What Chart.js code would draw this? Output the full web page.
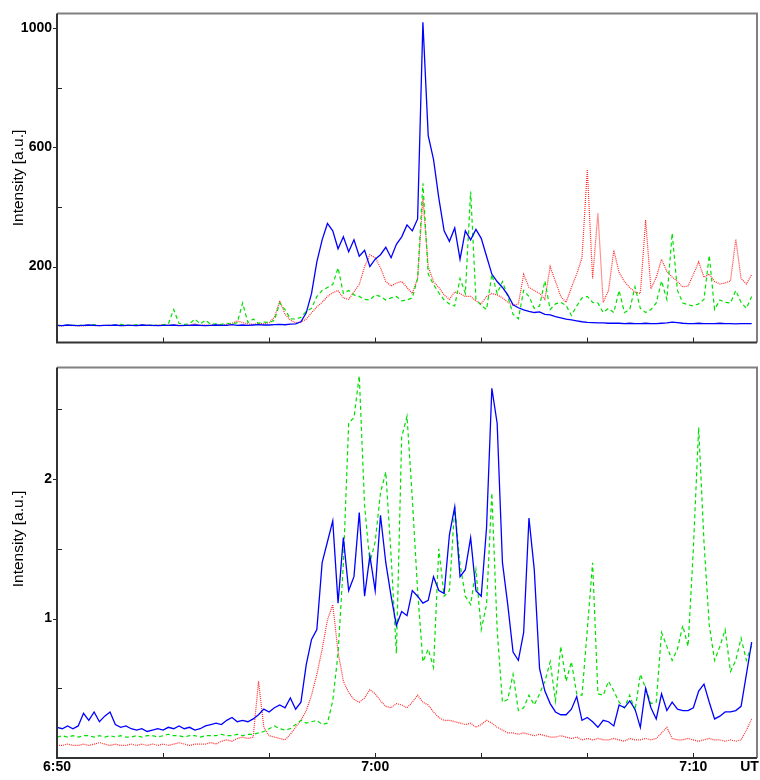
<!DOCTYPE html>
<html>
<head>
<meta charset="utf-8">
<script src="https://cdn.jsdelivr.net/npm/chart.js@4"></script>
<style>
  body { margin: 0; background: #fff; }
  #wrap { position: relative; width: 760px; height: 780px; }
  #wrap canvas { position: absolute; left: 0; }
  #top { top: 0; width: 760px; height: 356px; }
  #bottom { top: 354px; width: 760px; height: 426px; }
</style>
</head>
<body>
<div id="wrap">
  <canvas id="top" width="760" height="356"></canvas>
  <canvas id="bottom" width="760" height="426"></canvas>
</div>
<script>
// seconds after 6:50 UT, one sample every 10 s
const times = [
  0,10,20,30,40,50,60,70,80,90,100,110,120,130,140,150,160,170,180,190,
  200,210,220,230,240,250,260,270,280,290,300,310,320,330,340,350,360,370,380,390,
  400,410,420,430,440,450,460,470,480,490,500,510,520,530,540,550,560,570,580,590,
  600,610,620,630,640,650,660,670,680,690,700,710,720,730,740,750,760,770,780,790,
  800,810,820,830,840,850,860,870,880,890,900,910,920,930,940,950,960,970,980,990,
  1000,1010,1020,1030,1040,1050,1060,1070,1080,1090,1100,1110,1120,1130,1140,1150,1160,1170,1180,1190,
  1200,1210,1220,1230,1240,1250,1260,1270,1280,1290,1300,1310
];

// upper panel
const topBlue = [
  3,2,4,3,2,3,4,3,2,3,
  3,4,2,3,3,2,4,3,3,2,
  3,3,4,2,3,3,4,3,2,3,
  4,3,3,5,3,4,3,4,5,4,
  4,5,6,5,7,8,15,45,110,216,
  290,345,320,260,300,250,290,235,255,200,
  225,240,265,230,275,300,340,320,360,1020,
  640,560,430,320,285,330,225,320,290,325,
  295,235,175,150,130,105,72,62,55,50,
  46,48,40,38,32,28,24,21,18,15,
  13,12,11,11,10,10,10,9,10,9,
  9,10,9,9,10,11,14,12,10,9,
  9,10,9,9,9,10,9,9,8,9,
  9,9
];
const topGreen = [
  3,2,4,3,2,4,3,5,3,2,
  4,3,6,4,3,5,4,3,4,3,
  5,8,56,10,6,8,24,8,20,6,
  8,6,10,8,12,78,12,24,10,14,
  12,20,78,56,25,24,30,50,60,100,
  120,130,140,196,110,120,105,100,90,88,
  105,100,88,95,100,85,88,95,160,480,
  175,140,112,88,75,68,160,110,452,90,
  70,56,174,110,150,100,40,25,120,100,
  60,68,152,56,75,80,70,36,68,95,
  100,80,78,46,60,46,120,46,56,132,
  60,46,56,78,152,90,312,120,78,72,
  68,75,90,238,56,88,80,78,120,80,
  60,100
];
const topRed = [
  2,1,3,2,2,1,3,2,2,3,
  2,3,2,2,3,2,3,4,2,3,
  5,3,4,3,2,4,8,3,4,3,
  5,4,6,10,18,12,8,6,10,8,
  12,30,85,40,20,12,14,24,45,65,
  80,100,112,120,95,90,115,140,200,240,
  230,196,150,135,145,150,130,110,160,430,
  200,150,130,105,90,115,110,100,100,85,
  75,100,110,105,95,80,70,75,174,130,
  120,110,90,200,150,100,80,130,175,230,
  526,160,380,80,120,255,180,150,130,115,
  110,356,125,164,225,184,165,150,132,135,
  174,216,164,175,150,142,145,152,292,160,
  142,174
];

// lower panel
const lowBlue = [
  0.22,0.21,0.23,0.21,0.23,0.32,0.27,0.33,0.26,0.30,
  0.33,0.24,0.22,0.23,0.21,0.20,0.21,0.19,0.20,0.21,
  0.20,0.22,0.21,0.23,0.21,0.22,0.20,0.21,0.23,0.24,
  0.25,0.24,0.27,0.29,0.26,0.27,0.26,0.28,0.31,0.35,
  0.33,0.36,0.38,0.36,0.43,0.35,0.40,0.67,0.85,0.92,
  1.40,1.55,1.70,1.11,1.58,1.20,1.30,1.76,1.16,1.45,
  1.20,1.74,1.40,1.16,0.95,1.05,1.02,1.20,1.16,1.11,
  1.13,1.30,1.20,1.18,1.60,1.80,1.30,1.35,1.58,1.20,
  1.16,1.65,2.65,2.40,1.40,1.10,0.76,0.70,0.90,1.72,
  1.35,0.64,0.48,0.39,0.33,0.31,0.31,0.35,0.44,0.27,
  0.29,0.26,0.22,0.27,0.26,0.23,0.38,0.36,0.41,0.35,
  0.22,0.50,0.36,0.28,0.46,0.34,0.40,0.35,0.34,0.34,
  0.36,0.48,0.53,0.40,0.28,0.30,0.33,0.33,0.34,0.37,
  0.60,0.83
];
const lowGreen = [
  0.15,0.16,0.15,0.16,0.15,0.16,0.16,0.15,0.16,0.15,
  0.16,0.15,0.16,0.15,0.15,0.16,0.15,0.16,0.16,0.15,
  0.16,0.17,0.16,0.16,0.15,0.16,0.16,0.15,0.16,0.16,
  0.16,0.17,0.16,0.16,0.17,0.16,0.17,0.17,0.18,0.19,
  0.21,0.23,0.21,0.20,0.21,0.24,0.27,0.25,0.26,0.27,
  0.24,0.25,0.41,0.75,1.39,2.40,2.44,2.74,1.81,1.40,
  1.55,1.90,2.05,1.45,0.75,2.30,2.45,1.86,1.20,0.69,
  0.78,0.65,1.50,1.16,1.20,1.80,1.39,1.16,1.10,1.35,
  0.92,1.10,1.90,0.92,0.40,0.42,0.60,0.34,0.36,0.45,
  0.38,0.46,0.55,0.69,0.41,0.80,0.55,0.69,0.46,0.45,
  0.92,1.40,0.46,0.45,0.55,0.48,0.40,0.36,0.45,0.34,
  0.60,0.50,0.39,0.40,0.90,0.80,0.70,0.78,0.95,0.80,
  1.50,2.37,1.55,0.95,0.70,0.80,0.92,0.62,0.70,0.86,
  0.70,0.81
];
const lowRed = [
  0.09,0.09,0.10,0.09,0.09,0.10,0.09,0.10,0.11,0.10,
  0.09,0.10,0.09,0.09,0.10,0.09,0.10,0.09,0.10,0.09,
  0.10,0.09,0.10,0.11,0.10,0.09,0.10,0.10,0.10,0.11,
  0.10,0.12,0.13,0.12,0.14,0.15,0.14,0.15,0.55,0.22,
  0.16,0.15,0.14,0.13,0.17,0.22,0.27,0.34,0.45,0.60,
  0.78,0.99,1.10,0.76,0.55,0.47,0.42,0.40,0.43,0.49,
  0.46,0.41,0.37,0.36,0.39,0.38,0.36,0.40,0.45,0.40,
  0.38,0.33,0.29,0.27,0.27,0.26,0.25,0.24,0.25,0.22,
  0.24,0.27,0.25,0.22,0.20,0.18,0.18,0.17,0.18,0.17,
  0.16,0.17,0.16,0.15,0.15,0.16,0.15,0.14,0.15,0.13,
  0.14,0.13,0.14,0.13,0.13,0.14,0.13,0.12,0.14,0.13,
  0.13,0.14,0.13,0.14,0.18,0.22,0.14,0.13,0.13,0.14,
  0.13,0.12,0.13,0.14,0.13,0.13,0.12,0.13,0.12,0.13,
  0.20,0.28
];

// axes
const xTickMarks = [200, 400, 600, 800, 1000, 1200];
const xLabelPos = [0, 600, 1200, 1306];
const xLabelText = ['6:50', '7:00', '7:10', 'UT'];
const topYTicks = [200, 400, 600, 800, 1000];
const topYLabels = ['200', '', '600', '', '1000'];
const lowYTicks = [0.5, 1, 1.5, 2, 2.5];
const lowYLabels = ['', '1', '', '2', ''];

const tickFont = { family: 'Arial, "Liberation Sans", sans-serif', size: 14, weight: 'bold' };

// frame, tick marks and the rotated axis title
const framePlugin = {
  id: 'frame',
  afterDraw(chart, args, opts) {
    const { ctx, chartArea: a, scales } = chart;
    ctx.save();
    ctx.strokeStyle = '#222';
    ctx.lineWidth = 1;
    opts.yTicks.forEach((v, k) => {
      const y = Math.round(scales.y.getPixelForValue(v)) + 0.5;
      ctx.beginPath();
      if (opts.yLabels[k] !== '') { ctx.moveTo(a.left - 4, y); ctx.lineTo(a.left, y); }
      else { ctx.moveTo(a.left, y); ctx.lineTo(a.left + 5, y); }
      ctx.stroke();
    });
    xTickMarks.forEach(v => {
      const x = Math.round(scales.x.getPixelForValue(v)) + 0.5;
      ctx.beginPath();
      ctx.moveTo(x, a.bottom);
      ctx.lineTo(x, a.bottom - 5);
      ctx.stroke();
    });

    ctx.lineWidth = 2;
    ctx.strokeStyle = '#808080';
    ctx.beginPath();
    ctx.moveTo(a.left, a.top); ctx.lineTo(a.right, a.top); ctx.lineTo(a.right, a.bottom);
    ctx.stroke();
    ctx.strokeStyle = '#333';
    ctx.beginPath();
    ctx.moveTo(a.left, a.top); ctx.lineTo(a.left, a.bottom); ctx.lineTo(a.right, a.bottom);
    ctx.stroke();

    ctx.fillStyle = '#000';
    ctx.font = '15.5px Arial, "Liberation Sans", sans-serif';
    ctx.textAlign = 'center';
    ctx.textBaseline = 'middle';
    ctx.translate(19, opts.titleY);
    ctx.rotate(-Math.PI / 2);
    ctx.fillText('Intensity [a.u.]', 0, 0);
    ctx.restore();
  }
};

const toPoints = vals => times.map((t, k) => ({ x: t, y: vals[k] }));

function makeDatasets(blue, green, red) {
  return [
    { data: toPoints(blue), borderColor: '#0000ff', borderWidth: 1.3 },
    { data: toPoints(green), borderColor: '#00e000', borderWidth: 1.2, borderDash: [4, 3] },
    { data: toPoints(red), borderColor: '#ff2a2a', borderWidth: 1.2, borderDash: [1, 1] }
  ];
}

function panelOptions(cfg) {
  return {
    responsive: false,
    animation: false,
    devicePixelRatio: 1,
    layout: { padding: { left: 0, right: 3, top: cfg.padTop, bottom: 0 } },
    elements: { point: { radius: 0 }, line: { tension: 0 } },
    plugins: {
      legend: { display: false },
      tooltip: { enabled: false },
      frame: { yTicks: cfg.yTicks, yLabels: cfg.yLabels, titleY: cfg.titleY }
    },
    scales: {
      x: {
        type: 'linear', min: 0, max: 1320,
        grid: { display: false, drawTicks: false },
        border: { display: false },
        afterFit: s => { s.height = cfg.xHeight; },
        afterBuildTicks: s => { s.ticks = xLabelPos.map(v => ({ value: v })); },
        ticks: {
          display: cfg.showX, autoSkip: false, maxRotation: 0, padding: 1,
          color: '#000', font: tickFont,
          callback: v => xLabelText[xLabelPos.indexOf(v)]
        }
      },
      y: {
        min: cfg.yMin, max: cfg.yMax,
        grid: { display: false, drawTicks: false },
        border: { display: false },
        afterFit: s => { s.width = 57; },
        afterBuildTicks: s => { s.ticks = cfg.yTicks.map(v => ({ value: v })); },
        ticks: {
          padding: 5, color: '#000', font: tickFont,
          callback: v => cfg.yLabels[cfg.yTicks.indexOf(v)]
        }
      }
    }
  };
}

new Chart(document.getElementById('top'), {
  type: 'line',
  data: { datasets: makeDatasets(topBlue, topGreen, topRed) },
  options: panelOptions({
    padTop: 6, xHeight: 4, showX: false, yMin: -55, yMax: 1050,
    yTicks: topYTicks, yLabels: topYLabels, titleY: 178
  }),
  plugins: [framePlugin]
});

new Chart(document.getElementById('bottom'), {
  type: 'line',
  data: { datasets: makeDatasets(lowBlue, lowGreen, lowRed) },
  options: panelOptions({
    padTop: 3, xHeight: 22, showX: true, yMin: 0, yMax: 2.8,
    yTicks: lowYTicks, yLabels: lowYLabels, titleY: 185
  }),
  plugins: [framePlugin]
});
</script>
</body>
</html>
